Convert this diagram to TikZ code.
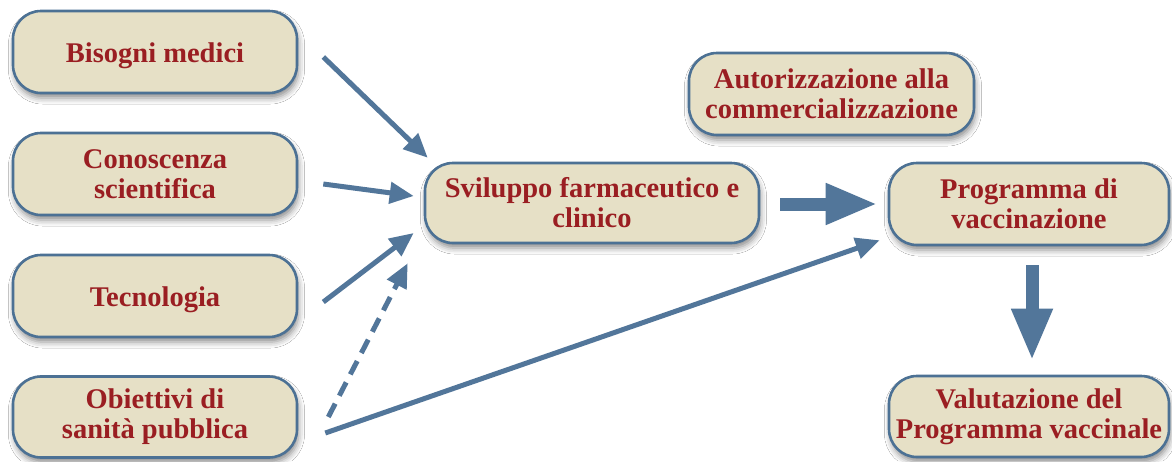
\documentclass[tikz,border=0pt]{standalone}
\usepackage{fontspec}
\setmainfont{Liberation Serif}
\usetikzlibrary{arrows.meta,calc,shadows.blur}
\definecolor{boxfill}{HTML}{E6E0C6}
\definecolor{boxline}{HTML}{4C7194}
\definecolor{arrowc}{HTML}{52769A}
\definecolor{txtred}{HTML}{9A1E22}
\tikzset{
  box/.style={draw=boxline, line width=2.6pt, fill=boxfill, rounded corners=28pt,
    inner sep=0pt, align=center, text=txtred,
    font=\bfseries\fontsize{28.5}{30}\selectfont,
    execute at begin node={\rule{0pt}{27pt}},
    blur shadow={shadow xshift=1.5pt, shadow yshift=-5pt, shadow blur radius=6pt, shadow opacity=45}},
  thin/.style={draw=arrowc, line width=5pt, -{Triangle[length=24pt,width=21pt]}},
  thick/.style={draw=arrowc, line width=13pt, -{Triangle[length=52pt,width=38pt]}},
}
\begin{document}
\begin{tikzpicture}[x=1pt,y=-1pt]
\useasboundingbox[fill=white] (0,0) rectangle (1172,461);
\node[box, minimum width=284pt, minimum height=82pt] (b1) at (155,52) {Bisogni medici};
\node[box, minimum width=284pt, minimum height=82pt] (b2) at (155,174) {Conoscenza\\scientifica};
\node[box, minimum width=284pt, minimum height=82pt] (b3) at (155,296) {Tecnologia};
\node[box, minimum width=284pt, minimum height=81pt] (b4) at (155,417) {Obiettivi di\\sanità pubblica};
\node[box, minimum width=334pt, minimum height=80pt] (s) at (592,203) {Sviluppo farmaceutico e\\clinico};
\node[box, minimum width=285pt, minimum height=82pt] (a) at (831.5,94) {Autorizzazione alla\\commercializzazione};
\node[box, minimum width=280pt, minimum height=82pt] (p) at (1029,204) {Programma di\\vaccinazione};
\node[box, minimum width=280pt, minimum height=81pt] (v) at (1029,416.5) {Valutazione del\\Programma vaccinale};

\draw[thin] ($(b1.east)+(25,5)$) -- ($(s.north west)+(4,-4)$);
\draw[thin] ($(b2.east)+(25,10)$) -- ($(s.west)+(-10,-7)$);
\draw[thin] ($(b3.east)+(25,6)$) -- ($(s.west)+(-10,30)$);
\draw[thin, dash pattern=on 15pt off 9pt] ($(b4.east)+(30,0)$) -- ($(s.south west)+(-16,19)$);
\draw[thin] ($(b4.east)+(27,16)$) -- ($(p.south west)+(-8,-6)$);
\draw[thick] ($(s.east)+(20,1)$) -- ($(p.west)+(-10,0)$);
\draw[thick] ($(p.south)+(3,19)$) -- ($(v.north)+(3,-14)$);
\end{tikzpicture}
\end{document}
